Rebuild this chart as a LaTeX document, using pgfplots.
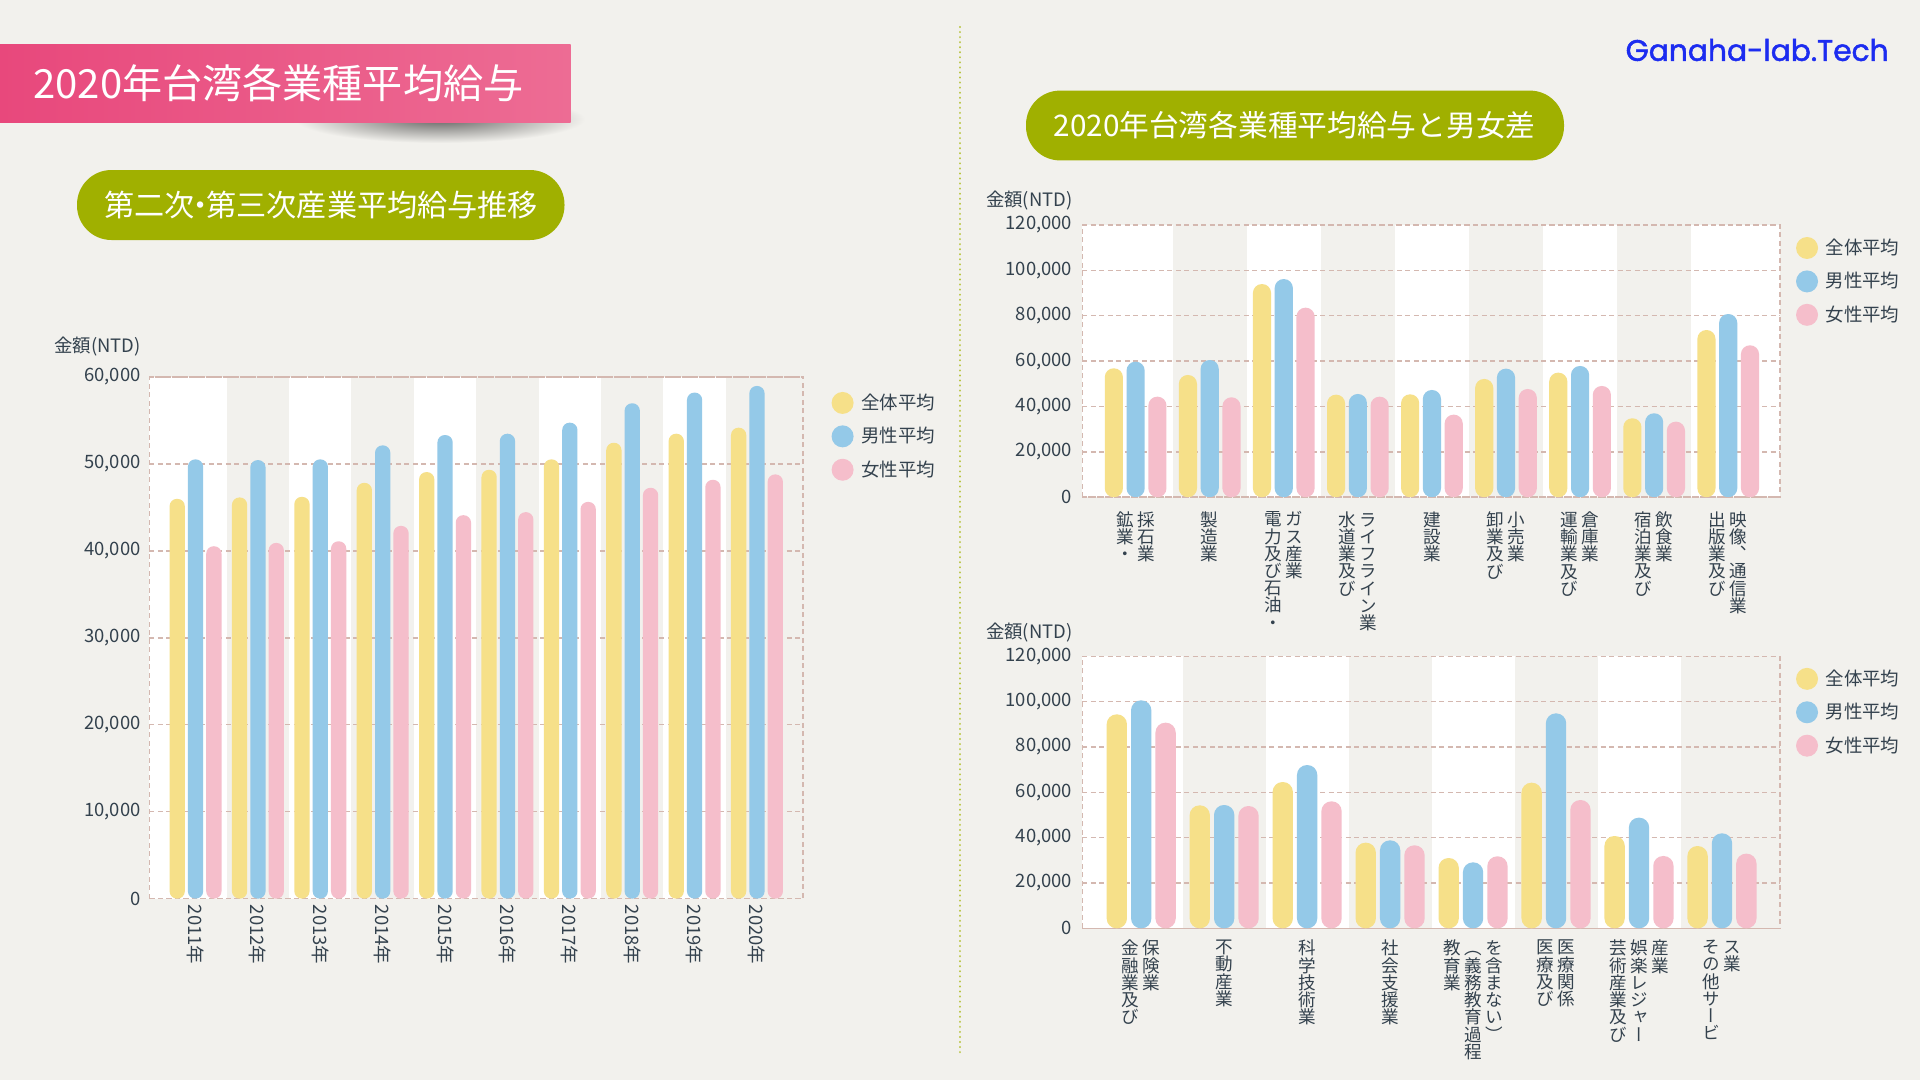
\documentclass[border=0pt]{standalone}
\usepackage{pgfplots}
\pgfplotsset{compat=1.18}
\usepackage{pgfplotstable}
\usepackage{graphicx}
\usepackage{fontspec}
\setmainfont{Noto Sans CJK JP}
\newfontfamily\vfont[RawFeature=+vert]{Noto Sans CJK JP}
\newfontfamily\logofont[FakeBold=1.6]{Poppins}

\definecolor{bg}{RGB}{242,241,237}
\definecolor{cy}{RGB}{246,224,137}
\definecolor{cb}{RGB}{148,201,232}
\definecolor{cp}{RGB}{245,190,203}
\definecolor{gridc}{RGB}{212,184,176}
\definecolor{txt}{RGB}{52,66,78}
\definecolor{olive}{RGB}{160,176,0}
\definecolor{pinkL}{RGB}{232,72,124}
\definecolor{pinkR}{RGB}{237,108,148}
\definecolor{logo}{RGB}{28,44,240}

\makeatletter
\def\vc#1{\vtop{\baselineskip=0.98em\lineskiplimit=-5em\relax\vc@#1\relax}}
\def\vc@#1{\ifx\relax#1\else\hbox to 1em{\hss#1\hss}\expandafter\vc@\fi}
\makeatother
\newcommand{\vg}{\hspace{0.2em}}

\pgfplotstableread{
x a m f
0 45980 50520 40530
1 46140 50440 40910
2 46210 50520 41100
3 47820 52130 42870
4 49060 53320 44100
5 49320 53470 44450
6 50520 54740 45630
7 52430 56970 47250
8 53470 58200 48170
9 54160 58960 48790
}\lefttab

\pgfplotstableread{
x a m f
0 56820 59740 44320
1 53880 60480 44030
2 93960 96160 83540
3 45200 45500 44320
4 45350 47260 36390
5 52120 56670 47700
6 54900 57840 49030
7 34800 37000 33300
8 73700 80750 66950
}\toptab

\pgfplotstableread{
x a m f
0 94420 100600 90740
1 54270 54420 53970
2 64560 72060 56030
3 37800 38830 36620
4 31030 29120 31770
5 64270 94860 56620
6 40740 48830 31920
7 36320 41920 32950
}\bottab

\pgfplotsset{
 barax/.style={
  scale only axis, set layers, anchor=south west, enlargelimits=false,
  ymin=0, scaled y ticks=false,
  /pgf/number format/fixed, /pgf/number format/precision=0,
  /pgf/number format/1000 sep={,}, /pgf/number format/assume math mode=true,
  axis line style={draw=gridc, line width=0.03cm, dash pattern=on 0.1cm off 0.07cm},
  ymajorgrids, grid style={draw=gridc, line width=0.03cm, dash pattern=on 0.1cm off 0.07cm},
  major tick length=0pt, xtick style={draw=none}, ytick style={draw=none},
  tick label style={font=\fontsize{10.5}{12}\selectfont, text=txt},
  yticklabel style={anchor=east, inner sep=0pt, xshift=-0.17cm},
  legend style={draw=none, fill=none, inner sep=0pt, row sep=0.165cm, column sep=0.08cm,
    font=\fontsize{10.5}{12}\selectfont, text=txt, cells={anchor=west}, anchor=north west},
  legend image code/.code={\fill[##1] (0.22cm,0cm) circle (0.22cm);},
 },
}

\begin{document}
\begin{tikzpicture}[x=0.02cm,y=-0.02cm]
\pgfplotsset{set layers}
\begin{pgfonlayer}{axis background}
\fill[bg] (0,0) rectangle (1920,1080);
\end{pgfonlayer}
% banner shadow and banner
\shade[inner color=black!58!bg, outer color=bg] (440,119) ellipse (145 and 24);
\shade[left color=pinkL, right color=pinkR] (0,44) rectangle (570.6,122.5);
\node[anchor=west, text=white, inner sep=0pt] at (33,83) {\resizebox{9.8cm}{!}{2020年台湾各業種平均給与}};
% pills
\fill[olive, rounded corners=0.69cm] (77,170) rectangle (564.5,240);
\node[text=white, inner sep=0pt] at (321,205) {\resizebox{8.68cm}{!}{第二次\kern-0.3em・\kern-0.3em第三次産業平均給与推移}};
\fill[olive, rounded corners=0.68cm] (1026,90.6) rectangle (1564,160.4);
\node[text=white, inner sep=0pt] at (1294.5,125.5) {\resizebox{9.64cm}{!}{2020年台湾各業種平均給与と男女差}};
% logo
\node[anchor=east, text=logo, inner sep=0pt] at (1889,50) {\resizebox{5.26cm}{!}{\logofont Ganaha-lab.Tech}};
% divider
\draw[olive!75, line width=0.045cm, line cap=round, dash pattern=on 0.001cm off 0.1cm] (960,27) -- (960,1053);
% y labels
\node[anchor=west, text=txt, inner sep=0pt, font=\fontsize{10.5}{12}\selectfont] at (54,346.5) {金額(NTD)};
\node[anchor=west, text=txt, inner sep=0pt, font=\fontsize{10.5}{12}\selectfont] at (985.7,200.8) {金額(NTD)};
\node[anchor=west, text=txt, inner sep=0pt, font=\fontsize{10.5}{12}\selectfont] at (985.7,633) {金額(NTD)};

% ---------------- left chart
\begin{axis}[barax, at={(2.988cm,-17.976cm)}, width=13.078cm, height=10.436cm,
  xmin=-0.74, xmax=9.74, ymax=60000, ytick={0,10000,...,60000},
  xtick={0,...,9},
  xticklabels={2011年,2012年,2013年,2014年,2015年,2016年,2017年,2018年,2019年,2020年},
  xticklabel style={rotate=-90, anchor=west},
  legend style={at={(1.043,0.975)}}]
\begin{pgfonlayer}{axis background}
\fill[white] (axis cs:-0.74,0) rectangle (axis cs:0.5,60000);
\fill[white] (axis cs:1.5,0) rectangle (axis cs:2.5,60000);
\fill[white] (axis cs:3.5,0) rectangle (axis cs:4.5,60000);
\fill[white] (axis cs:5.5,0) rectangle (axis cs:6.5,60000);
\fill[white] (axis cs:7.5,0) rectangle (axis cs:8.5,60000);
\end{pgfonlayer}
\addplot[ybar, fill=cy, draw=none, bar width=0.245, bar shift=-0.294, rounded corners=0.148cm] table[x=x,y=a]{\lefttab};
\addplot[ybar, fill=cb, draw=none, bar width=0.245, bar shift=0, rounded corners=0.148cm] table[x=x,y=m]{\lefttab};
\addplot[ybar, fill=cp, draw=none, bar width=0.245, bar shift=0.294, rounded corners=0.148cm] table[x=x,y=f]{\lefttab};
\legend{全体平均,男性平均,女性平均}
\end{axis}

% ---------------- right top chart
\begin{axis}[barax, at={(21.65cm,-9.946cm)}, width=13.958cm, height=5.446cm,
  xmin=-0.72, xmax=8.70, ymax=120000, ytick={0,20000,...,120000},
  yticklabel style={xshift=-0.025cm},
  xtick={0,...,8},
  xticklabels={
   {\vc{鉱業・}\vg\vc{採石業}},
   {\vc{製造業}},
   {\vc{電力及び石油・}\vg\vc{ガス産業}},
   {\vc{水道業及び}\vg\vc{ライフライン業}},
   {\vc{建設業}},
   {\vc{卸業及び}\vg\vc{小売業}},
   {\vc{運輸業及び}\vg\vc{倉庫業}},
   {\vc{宿泊業及び}\vg\vc{飲食業}},
   {\vc{出版業及び}\vg\vc{映像、通信業}}},
  xticklabel style={anchor=north, inner sep=0pt, yshift=-0.28cm, font=\vfont\fontsize{10}{10}\selectfont},
  legend style={at={(1.0224,0.963)}}]
\begin{pgfonlayer}{axis background}
\fill[white] (axis cs:-0.72,0) rectangle (axis cs:0.5,120000);
\fill[white] (axis cs:1.5,0) rectangle (axis cs:2.5,120000);
\fill[white] (axis cs:3.5,0) rectangle (axis cs:4.5,120000);
\fill[white] (axis cs:5.5,0) rectangle (axis cs:6.5,120000);
\fill[white] (axis cs:7.5,0) rectangle (axis cs:8.70,120000);
\end{pgfonlayer}
\addplot[ybar, fill=cy, draw=none, bar width=0.245, bar shift=-0.294, rounded corners=0.178cm] table[x=x,y=a]{\toptab};
\addplot[ybar, fill=cb, draw=none, bar width=0.245, bar shift=0, rounded corners=0.178cm] table[x=x,y=m]{\toptab};
\addplot[ybar, fill=cp, draw=none, bar width=0.245, bar shift=0.294, rounded corners=0.178cm] table[x=x,y=f]{\toptab};
\legend{全体平均,男性平均,女性平均}
\end{axis}

% ---------------- right bottom chart
\begin{axis}[barax, at={(21.65cm,-18.57cm)}, width=13.958cm, height=5.44cm,
  xmin=-0.71, xmax=7.70, ymax=120000, ytick={0,20000,...,120000},
  yticklabel style={xshift=-0.025cm},
  xtick={0,...,7},
  xticklabels={
   {\vc{金融業及び}\vg\vc{保険業}},
   {\vc{不動産業}},
   {\vc{科学技術業}},
   {\vc{社会支援業}},
   {\vc{教育業}\vg\vc{（義務教育過程}\vg\vc{を含まない）}},
   {\vc{医療及び}\vg\vc{医療関係}},
   {\vc{芸術産業及び}\vg\vc{娯楽レジャー}\vg\vc{産業}},
   {\vc{その他サービ}\vg\vc{ス業}}},
  xticklabel style={anchor=north, inner sep=0pt, yshift=-0.23cm, font=\vfont\fontsize{10}{10}\selectfont},
  legend style={at={(1.0224,0.965)}}]
\begin{pgfonlayer}{axis background}
\fill[white] (axis cs:-0.71,0) rectangle (axis cs:0.5,120000);
\fill[white] (axis cs:1.5,0) rectangle (axis cs:2.5,120000);
\fill[white] (axis cs:3.5,0) rectangle (axis cs:4.5,120000);
\fill[white] (axis cs:5.5,0) rectangle (axis cs:6.5,120000);
\end{pgfonlayer}
\addplot[ybar, fill=cy, draw=none, bar width=0.245, bar shift=-0.294, rounded corners=0.198cm] table[x=x,y=a]{\bottab};
\addplot[ybar, fill=cb, draw=none, bar width=0.245, bar shift=0, rounded corners=0.198cm] table[x=x,y=m]{\bottab};
\addplot[ybar, fill=cp, draw=none, bar width=0.245, bar shift=0.294, rounded corners=0.198cm] table[x=x,y=f]{\bottab};
\legend{全体平均,男性平均,女性平均}
\end{axis}
\pgfresetboundingbox
\path[use as bounding box] (0,0) rectangle (1920,1080);
\end{tikzpicture}
\end{document}
